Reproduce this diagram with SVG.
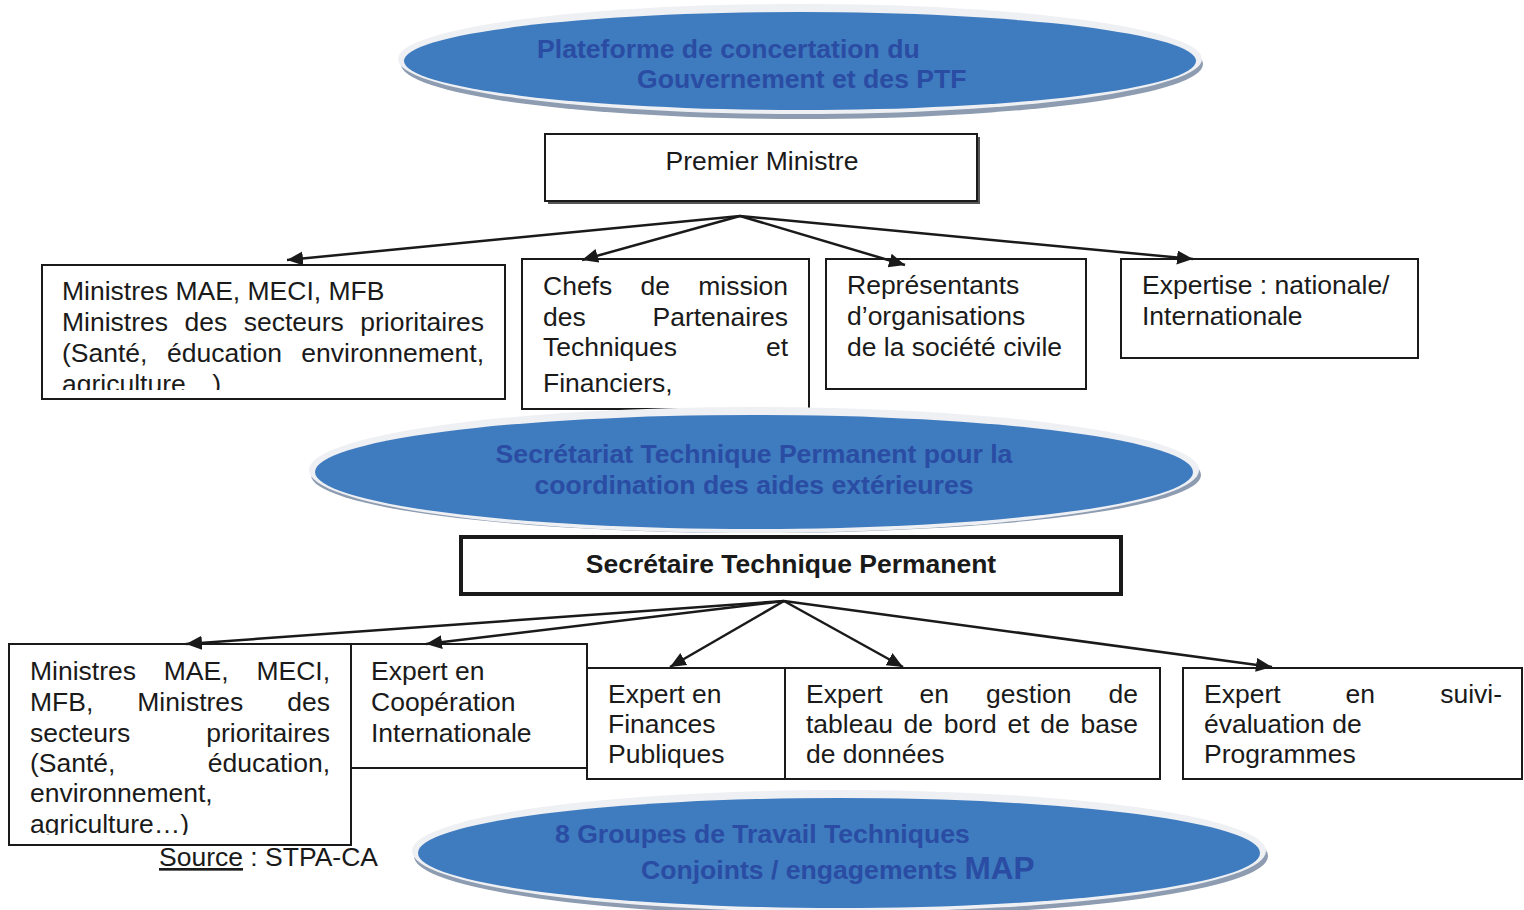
<svg xmlns="http://www.w3.org/2000/svg" width="1524" height="910" viewBox="0 0 1524 910">
<style>
text{font-family:"Liberation Sans",Arial,sans-serif;}
.t{font-size:26.5px;fill:#1a1a1a;}
.e{font-size:26.6px;font-weight:bold;fill:#2a4ca3;}
.box{fill:#fff;stroke:#1a1a1a;stroke-width:2;}
.halo{fill:#eef0f3;}
.shadow{fill:#8d9cb1;}
.blue{fill:#3f7bbf;}
.con{stroke:#1a1a1a;stroke-width:2.5;fill:none;marker-end:url(#ah);}
</style>
<defs>
<marker id="ah" markerUnits="userSpaceOnUse" markerWidth="18" markerHeight="16" refX="16" refY="7" orient="auto">
<path d="M0,0 L16,7 L0,14 z" fill="#1a1a1a"/>
</marker>
<clipPath id="clipA"><rect x="42" y="266" width="462" height="124"/></clipPath>
<clipPath id="clipE"><rect x="10" y="645" width="340" height="190"/></clipPath>
<clipPath id="clipI"><rect x="1184" y="669" width="338" height="100"/></clipPath>
</defs>
<rect width="1524" height="910" fill="#fff"/>

<g id="plateforme">
<ellipse class="shadow" cx="802" cy="64" rx="401" ry="55"/>
<ellipse class="halo" cx="800" cy="59" rx="402" ry="55"/>
<ellipse class="blue" cx="800" cy="61" rx="396" ry="49"/>
<text class="e" x="537" y="58">Plateforme de concertation du</text>
<text class="e" x="637" y="88">Gouvernement et des PTF</text>
</g>

<g id="premier-ministre">
<rect x="548" y="137" width="432" height="67" fill="#555"/>
<rect class="box" x="545" y="134" width="432" height="67"/>
<text class="t" x="762" y="170" text-anchor="middle">Premier Ministre</text>
</g>

<g id="ministres-top">
<rect class="box" x="42" y="265" width="463" height="134"/>
<g clip-path="url(#clipA)">
<text class="t" x="62" y="300">Ministres MAE, MECI, MFB</text>
<text class="t" y="331"><tspan x="62">Ministres</tspan><tspan x="184.5">des</tspan><tspan x="243.7">secteurs</tspan><tspan x="484" text-anchor="end">prioritaires</tspan></text>
<text class="t" y="362"><tspan x="62">(Santé,</tspan><tspan x="167">éducation</tspan></text>
<text class="t" x="484" y="362" text-anchor="end">environnement,</text>
<text class="t" x="62" y="393">agriculture…)</text>
</g>
</g>

<g id="chefs-mission">
<rect class="box" x="522" y="259" width="287" height="150"/>
<text class="t" y="295"><tspan x="543">Chefs</tspan><tspan x="640.5">de</tspan></text>
<text class="t" x="788" y="295" text-anchor="end">mission</text>
<text class="t" x="543" y="326">des</text>
<text class="t" x="788" y="326" text-anchor="end">Partenaires</text>
<text class="t" x="543" y="356">Techniques</text>
<text class="t" x="788" y="356" text-anchor="end">et</text>
<text class="t" x="543" y="392">Financiers,</text>
</g>

<g id="representants">
<rect class="box" x="826" y="259" width="260" height="130"/>
<text class="t" x="847" y="294">Représentants</text>
<text class="t" x="847" y="325">d’organisations</text>
<text class="t" x="847" y="356">de la société civile</text>
</g>

<g id="expertise">
<rect class="box" x="1121" y="259" width="297" height="99"/>
<text class="t" x="1142" y="294">Expertise : nationale/</text>
<text class="t" x="1142" y="325">Internationale</text>
</g>

<g id="secretariat">
<ellipse class="shadow" cx="756" cy="475" rx="445" ry="58"/>
<ellipse class="halo" cx="754" cy="470" rx="445" ry="63"/>
<ellipse class="blue" cx="754" cy="472" rx="439" ry="57"/>
<text class="e" x="754" y="463" text-anchor="middle">Secrétariat Technique Permanent pour la</text>
<text class="e" x="754" y="494" text-anchor="middle">coordination des aides extérieures</text>
</g>

<g id="secretaire">
<rect x="461" y="537" width="660" height="57" fill="#fff" stroke="#1a1a1a" stroke-width="4"/>
<text class="t" x="791" y="573" text-anchor="middle" font-weight="bold">Secrétaire Technique Permanent</text>
</g>

<g id="ministres-bottom">
<rect class="box" x="9" y="644" width="342" height="201"/>
<g clip-path="url(#clipE)">
<text class="t" y="680"><tspan x="30">Ministres</tspan><tspan x="163.8">MAE,</tspan></text>
<text class="t" x="330" y="680" text-anchor="end">MECI,</text>
<text class="t" y="711"><tspan x="30">MFB,</tspan><tspan x="137.3">Ministres</tspan></text>
<text class="t" x="330" y="711" text-anchor="end">des</text>
<text class="t" x="30" y="742">secteurs</text>
<text class="t" x="330" y="742" text-anchor="end">prioritaires</text>
<text class="t" x="30" y="772">(Santé,</text>
<text class="t" x="330" y="772" text-anchor="end">éducation,</text>
<text class="t" x="30" y="802">environnement,</text>
<text class="t" x="30" y="833">agriculture…)</text>
</g>
</g>

<g id="expert-cooperation">
<rect class="box" x="351" y="644" width="236" height="124"/>
<text class="t" x="371" y="680">Expert en</text>
<text class="t" x="371" y="711">Coopération</text>
<text class="t" x="371" y="742">Internationale</text>
</g>

<g id="expert-finances">
<rect class="box" x="587" y="668" width="198" height="111"/>
<text class="t" x="608" y="703">Expert en</text>
<text class="t" x="608" y="733">Finances</text>
<text class="t" x="608" y="763">Publiques</text>
</g>

<g id="expert-tableau">
<rect class="box" x="785" y="668" width="375" height="111"/>
<text class="t" y="703"><tspan x="806">Expert</tspan><tspan x="919.6">en</tspan><tspan x="986.1">gestion</tspan></text>
<text class="t" x="1138" y="703" text-anchor="end">de</text>
<text class="t" y="733"><tspan x="806">tableau</tspan><tspan x="903.6">de</tspan><tspan x="943.8">bord</tspan><tspan x="1007.5">et</tspan><tspan x="1040.3">de</tspan></text>
<text class="t" x="1138" y="733" text-anchor="end">base</text>
<text class="t" x="806" y="763">de données</text>
</g>

<g id="expert-suivi">
<rect class="box" x="1183" y="668" width="339" height="111"/>
<g clip-path="url(#clipI)">
<text class="t" y="703"><tspan x="1204">Expert</tspan><tspan x="1345.6">en</tspan></text>
<text class="t" x="1502" y="703" text-anchor="end">suivi-</text>
<text class="t" x="1204" y="733">évaluation de</text>
<text class="t" x="1204" y="763">Programmes</text>
</g>
</g>

<g id="source">
<text class="t" x="159" y="866"><tspan text-decoration="underline">Source</tspan> : STPA-CA</text>
</g>

<g id="groupes">
<ellipse class="shadow" cx="841" cy="856" rx="427" ry="60"/>
<ellipse class="halo" cx="839" cy="851" rx="427" ry="61"/>
<ellipse class="blue" cx="839" cy="853" rx="421" ry="55"/>
<text class="e" x="555" y="843">8 Groupes de Travail Techniques</text>
<text class="e" x="641" y="879">Conjoints / engagements <tspan font-size="31.5px">MAP</tspan></text>
</g>

<g id="connectors">
<line class="con" x1="740" y1="216" x2="287" y2="260"/>
<line class="con" x1="740" y1="216" x2="582" y2="260"/>
<line class="con" x1="740" y1="216" x2="905" y2="265"/>
<line class="con" x1="740" y1="216" x2="1193" y2="259"/>
<line class="con" x1="784" y1="601" x2="186" y2="644"/>
<line class="con" x1="784" y1="601" x2="426" y2="644"/>
<line class="con" x1="784" y1="601" x2="670" y2="667"/>
<line class="con" x1="784" y1="601" x2="903" y2="667"/>
<line class="con" x1="784" y1="601" x2="1272" y2="667"/>
</g>
</svg>
